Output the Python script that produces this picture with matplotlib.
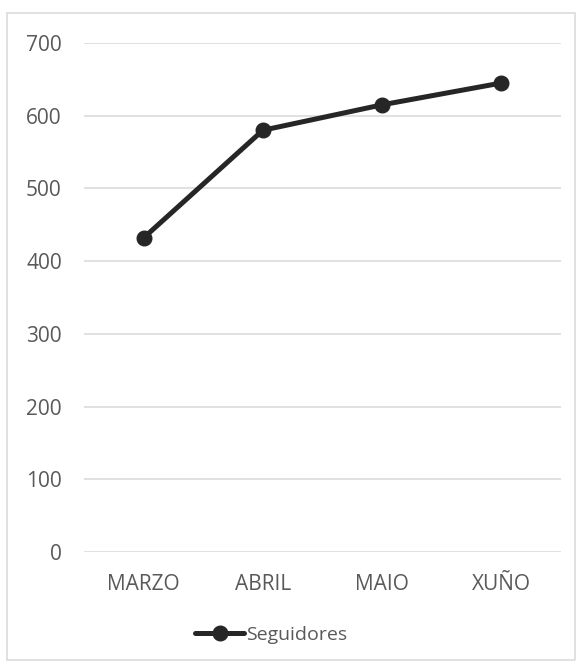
import matplotlib.pyplot as plt
from matplotlib.patches import Rectangle

meses = ["MARZO", "ABRIL", "MAIO", "XUÑO"]
seguidores = [432, 580, 615, 645]
yticks = [0, 100, 200, 300, 400, 500, 600, 700]

plt.rcParams['font.family'] = ['Open Sans', 'DejaVu Sans']
gris = '#595959'
grid_col = '#d9d9d9'

fig = plt.figure(figsize=(5.83, 6.69), dpi=100)
ax = fig.add_axes([84 / 583, 117 / 669, 477 / 583, 509 / 669])

x = range(len(meses))
ax.plot(x, seguidores, color='#262626', lw=3.6, marker='o', markersize=10.5,
        solid_capstyle='round', label='Seguidores')

ax.set_xlim(-0.5, len(meses) - 0.5)
ax.set_ylim(0, 700)
ax.set_yticks(yticks)
ax.set_xticks(list(x))
ax.set_xticklabels(meses)
ax.grid(axis='y', color=grid_col, lw=1.1)
ax.set_axisbelow(True)
for s in ax.spines.values():
    s.set_visible(False)
ax.tick_params(axis='both', length=0, labelsize=15, labelcolor=gris)
ax.tick_params(axis='y', pad=16)
ax.tick_params(axis='x', pad=16)

fig.legend(loc='center', bbox_to_anchor=(0.465, 0.051), frameon=False,
           fontsize=14, labelcolor=gris, handlelength=2.5, handletextpad=0.1)

# marco gris do gráfico
fig.patches.append(Rectangle((7 / 583, 9 / 669), 568 / 583, 647 / 669,
                             transform=fig.transFigure, fill=False,
                             edgecolor=grid_col, lw=1.1))

fig.savefig('out.png', dpi=100)
